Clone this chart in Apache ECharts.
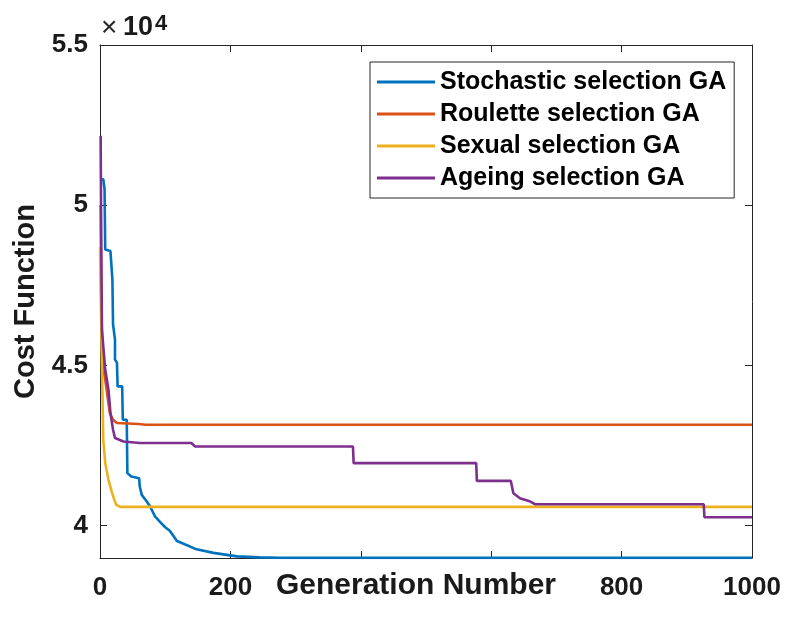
<!DOCTYPE html>
<html>
<head>
<meta charset="utf-8">
<script src="https://cdn.jsdelivr.net/npm/echarts@6/dist/echarts.min.js"></script>
<style>html,body{margin:0;padding:0;background:#fff}#c{width:788px;height:637px}</style>
</head>
<body>
<div id="c"></div>
<script>
// Series names
const seriesNames = ['Stochastic selection GA', 'Roulette selection GA', 'Sexual selection GA', 'Ageing selection GA'];
// [generation, cost]
const stochastic = [[1,50810],[5,50810],[7,50498],[8,48620],[16,48568],[19,47684],[20,46276],[23,45807],[23,45181],[26,45088],[27,44347],[34,44347],[35,43305],[41,43305],[42,41639],[48,41532],[60,41482],[61,41220],[64,40960],[70,40800],[77,40594],[84,40300],[92,40120],[100,39950],[107,39840],[118,39520],[130,39420],[148,39260],[174,39150],[210,39040],[245,39010],[276,38995],[1000,38995]];
const roulette = [[1,50000],[2,47000],[4,45000],[8,44557],[15,43524],[20,43305],[26,43202],[59,43170],[70,43150],[1000,43150]];
const sexual = [[0,48690],[2,46120],[5,42680],[8,41951],[13,41429],[18,41063],[22,40804],[25,40647],[31,40585],[1000,40585]];
const ageing = [[1,52164],[2,48500],[3,46100],[8,44863],[13,44243],[16,43515],[20,42993],[23,42733],[26,42680],[36,42627],[61,42577],[140,42577],[146,42470],[388,42470],[389,41951],[577,41951],[578,41398],[630,41398],[634,41013],[644,40857],[660,40750],[667,40669],[926,40669],[927,40263],[1000,40263]];
const yTicks = [40000, 45000, 50000, 55000];
const colors = ['#0072BD', '#D95319', '#EDB120', '#7E2F8E'];
const xTitle = 'Generation Number';
const yTitle = 'Cost Function';

const chart = echarts.init(document.getElementById('c'), null, {renderer: 'canvas'});
const axisColor = '#262626';
const font = 'Liberation Sans, Arial, Helvetica, sans-serif';
const baseX = {
  type: 'value', min: 0, max: 1000, interval: 200,
  axisLine: {show: true, onZero: false, lineStyle: {color: axisColor, width: 1}},
  axisTick: {show: true, inside: true, length: 7, lineStyle: {color: axisColor}},
  splitLine: {show: false}
};
const baseY = {
  type: 'value', min: 38990, max: 55000,
  axisLine: {show: true, onZero: false, lineStyle: {color: axisColor, width: 1}},
  axisTick: {show: true, inside: true, length: 7, customValues: yTicks, lineStyle: {color: axisColor}},
  splitLine: {show: false}
};
const datasets = [stochastic, roulette, sexual, ageing];
chart.setOption({
  animation: false,
  backgroundColor: '#fff',
  grid: {left: 100, right: 36, top: 45, bottom: 79, containLabel: false},
  xAxis: [
    Object.assign({}, baseX, {
      position: 'bottom',
      axisLabel: {show: true, margin: 17, fontFamily: font, fontWeight: 'bold', fontSize: 26, color: '#1a1a1a',
        formatter: v => String(v)}
    }),
    Object.assign({}, baseX, {position: 'top', axisLabel: {show: false}})
  ],
  yAxis: [
    Object.assign({}, baseY, {
      position: 'left',
      name: yTitle, nameLocation: 'middle', nameGap: 60, nameMoveOverlap: false,
      nameTextStyle: {fontFamily: font, fontWeight: 'bold', fontSize: 29, color: '#1a1a1a'},
      axisLabel: {show: true, margin: 12, customValues: yTicks, fontFamily: font, fontWeight: 'bold', fontSize: 26, color: '#1a1a1a',
        formatter: v => String(+(v / 10000).toFixed(2))}
    }),
    Object.assign({}, baseY, {position: 'right', axisLabel: {show: false}})
  ],
  legend: {
    show: true, orient: 'vertical', left: 370, top: 62,
    data: seriesNames,
    icon: 'rect', itemWidth: 58, itemHeight: 3, itemGap: 2,
    padding: [5, 8, 5, 7],
    backgroundColor: '#fff', borderColor: axisColor, borderWidth: 1, borderRadius: 0,
    textStyle: {fontFamily: font, fontWeight: 'bold', fontSize: 25, color: '#000', lineHeight: 30}
  },
  graphic: [
    {type: 'text', x: 101, y: 28, style: {text: '×', font: '28px ' + font, fill: '#262626', verticalAlign: 'middle'}},
    {type: 'text', x: 123, y: 28, style: {text: '10', font: 'bold 27px ' + font, fill: '#1a1a1a', verticalAlign: 'middle'}},
    {type: 'text', x: 155, y: 24, style: {text: '4', font: 'bold 22px ' + font, fill: '#1a1a1a', verticalAlign: 'middle'}},
    {type: 'text', x: 416, y: 586, z: 100, style: {text: xTitle, font: 'bold 30px ' + font, fill: '#1a1a1a',
      align: 'center', verticalAlign: 'middle', backgroundColor: '#fff', lineHeight: 24, padding: [0, 4, 0, 4]}}
  ],
  series: datasets.map((d, i) => ({
    name: seriesNames[i], type: 'line', data: d, showSymbol: false, symbol: 'none',
    xAxisIndex: 0, yAxisIndex: 0,
    lineStyle: {color: colors[i], width: 2.6}, itemStyle: {color: colors[i]},
    z: 2 + i
  }))
});
</script>
</body>
</html>
